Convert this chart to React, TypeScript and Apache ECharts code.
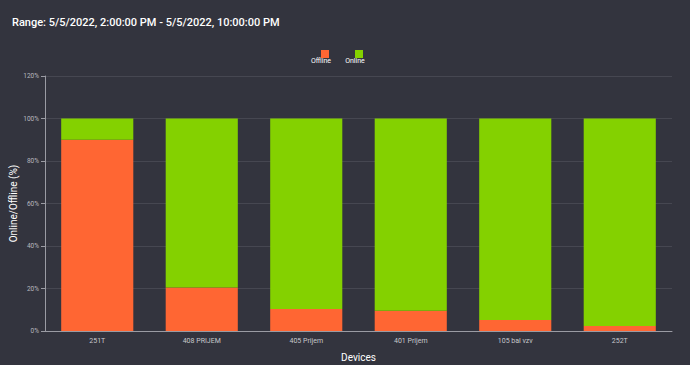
import React, { useEffect, useRef } from "react";
import * as echarts from "echarts";

const categories = ["251T", "408 PRIJEM", "405 Prijem", "401 Prijem", "105 bal vzv", "252T"];
const offline = [90, 20.5, 10.3, 9.5, 5.2, 2.4];
const online = offline.map((v) => +(100 - v).toFixed(1));
const yTicks = [0, 20, 40, 60, 80, 100, 120];
const legendNames = ["Offline", "Online"];
const title = "Range: 5/5/2022, 2:00:00 PM - 5/5/2022, 10:00:00 PM";

export default function App() {
  const ref = useRef<HTMLDivElement>(null);
  useEffect(() => {
    if (!ref.current) return;
    const chart = echarts.init(ref.current, undefined, { renderer: "svg" });
    chart.setOption({
      animation: false,
      backgroundColor: "#33343e",
      title: {
        text: title,
        left: 7,
        top: 12,
        textStyle: { color: "#ffffff", fontSize: 11, fontWeight: 500, fontFamily: "Roboto" },
      },
      legend: {
        top: 45,
        left: 316,
        itemWidth: 8,
        itemHeight: 8,
        itemGap: 26,
        icon: "rect",
        data: legendNames,
        formatter: () => "",
        textStyle: { fontSize: 1, padding: 0 },
      },
      graphic: legendNames.map((n, i) => ({
        type: "text",
        x: 321 + i * 34,
        y: 57,
        style: {
          text: n,
          fill: "#ffffff",
          fontSize: 7,
          fontFamily: "Roboto",
          align: "center",
        },
      })),
      grid: { left: 45, right: 18, top: 76, bottom: 34, outerBoundsMode: "none", containLabel: false },
      xAxis: {
        type: "category",
        data: categories,
        name: "Devices",
        nameLocation: "middle",
        nameGap: 21,
        nameMoveOverlap: false,
        nameTextStyle: { color: "#ffffff", fontSize: 10, fontFamily: "Roboto" },
        axisLine: { lineStyle: { color: "#9a9ba3" } },
        axisTick: { lineStyle: { color: "#9a9ba3" } },
        axisLabel: { color: "#c8c8cc", fontSize: 7, fontFamily: "Roboto", margin: 6 },
      },
      yAxis: {
        type: "value",
        min: 0,
        max: 120,
        interval: 20,
        name: "Online/Offline (%)",
        nameLocation: "middle",
        nameGap: 27,
        nameMoveOverlap: false,
        nameTextStyle: { color: "#ffffff", fontSize: 10, fontFamily: "Roboto" },
        axisLine: { show: true, lineStyle: { color: "#9a9ba3" } },
        axisTick: { show: true, length: 4, lineStyle: { color: "#9a9ba3" } },
        axisLabel: {
          color: "#b8b8be",
          fontSize: 6.5,
          fontFamily: "Roboto",
          margin: 6,
          formatter: (v: number) => (yTicks.includes(v) ? v + "%" : ""),
        },
        splitLine: { lineStyle: { color: "#464751", width: 1 } },
      },
      series: [
        {
          name: "Offline",
          type: "bar",
          stack: "total",
          data: offline,
          barWidth: "69%",
          itemStyle: { color: "#ff6633" },
        },
        {
          name: "Online",
          type: "bar",
          stack: "total",
          data: online,
          barWidth: "69%",
          itemStyle: { color: "#84d100" },
        },
      ],
    });
    return () => chart.dispose();
  }, []);
  return <div ref={ref} style={{ width: 690, height: 365, position: "absolute", left: 0, top: 0 }} />;
}
